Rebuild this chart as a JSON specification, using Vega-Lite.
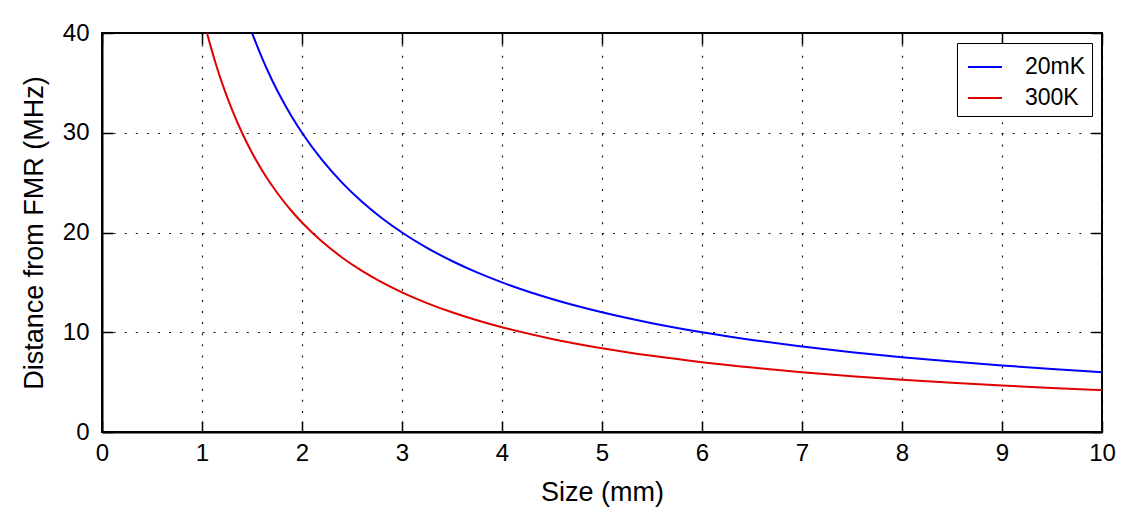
{
  "$schema": "https://vega.github.io/schema/vega-lite/v6.json",
  "autosize": {"type": "none"},
  "width": 1000,
  "height": 399,
  "padding": {"left": 102, "top": 33, "right": 35, "bottom": 97},
  "background": "white",
  "config": {
    "font": "Liberation Sans",
    "view": {"stroke": "black", "strokeWidth": 2},
    "axis": {
      "domainColor": "black",
      "domainWidth": 2,
      "tickColor": "black",
      "tickWidth": 1.5,
      "tickSize": -11,
      "labelColor": "black",
      "labelFlush": false,
      "labelOverlap": false,
      "titleFontWeight": "normal",
      "titleColor": "black",
      "gridColor": "black",
      "gridWidth": 1.2,
      "gridOpacity": 0.9
    }
  },
  "data": {
    "values": [
      {"size": 1.5, "dist": 40, "temp": "20mK"},
      {"size": 1.6, "dist": 37.5, "temp": "20mK"},
      {"size": 1.7, "dist": 35.294, "temp": "20mK"},
      {"size": 1.8, "dist": 33.333, "temp": "20mK"},
      {"size": 1.9, "dist": 31.579, "temp": "20mK"},
      {"size": 2.0, "dist": 30, "temp": "20mK"},
      {"size": 2.2, "dist": 27.273, "temp": "20mK"},
      {"size": 2.4, "dist": 25, "temp": "20mK"},
      {"size": 2.6, "dist": 23.077, "temp": "20mK"},
      {"size": 2.8, "dist": 21.429, "temp": "20mK"},
      {"size": 3.0, "dist": 20, "temp": "20mK"},
      {"size": 3.25, "dist": 18.462, "temp": "20mK"},
      {"size": 3.5, "dist": 17.143, "temp": "20mK"},
      {"size": 3.75, "dist": 16, "temp": "20mK"},
      {"size": 4.0, "dist": 15, "temp": "20mK"},
      {"size": 4.5, "dist": 13.333, "temp": "20mK"},
      {"size": 5.0, "dist": 12, "temp": "20mK"},
      {"size": 5.5, "dist": 10.909, "temp": "20mK"},
      {"size": 6.0, "dist": 10, "temp": "20mK"},
      {"size": 6.5, "dist": 9.231, "temp": "20mK"},
      {"size": 7.0, "dist": 8.571, "temp": "20mK"},
      {"size": 7.5, "dist": 8, "temp": "20mK"},
      {"size": 8.0, "dist": 7.5, "temp": "20mK"},
      {"size": 8.5, "dist": 7.059, "temp": "20mK"},
      {"size": 9.0, "dist": 6.667, "temp": "20mK"},
      {"size": 9.5, "dist": 6.316, "temp": "20mK"},
      {"size": 10.0, "dist": 6, "temp": "20mK"},
      {"size": 1.05, "dist": 40, "temp": "300K"},
      {"size": 1.1, "dist": 38.182, "temp": "300K"},
      {"size": 1.15, "dist": 36.522, "temp": "300K"},
      {"size": 1.2, "dist": 35, "temp": "300K"},
      {"size": 1.3, "dist": 32.308, "temp": "300K"},
      {"size": 1.4, "dist": 30, "temp": "300K"},
      {"size": 1.5, "dist": 28, "temp": "300K"},
      {"size": 1.6, "dist": 26.25, "temp": "300K"},
      {"size": 1.7, "dist": 24.706, "temp": "300K"},
      {"size": 1.8, "dist": 23.333, "temp": "300K"},
      {"size": 1.9, "dist": 22.105, "temp": "300K"},
      {"size": 2.0, "dist": 21, "temp": "300K"},
      {"size": 2.2, "dist": 19.091, "temp": "300K"},
      {"size": 2.4, "dist": 17.5, "temp": "300K"},
      {"size": 2.6, "dist": 16.154, "temp": "300K"},
      {"size": 2.8, "dist": 15, "temp": "300K"},
      {"size": 3.0, "dist": 14, "temp": "300K"},
      {"size": 3.25, "dist": 12.923, "temp": "300K"},
      {"size": 3.5, "dist": 12, "temp": "300K"},
      {"size": 3.75, "dist": 11.2, "temp": "300K"},
      {"size": 4.0, "dist": 10.5, "temp": "300K"},
      {"size": 4.5, "dist": 9.333, "temp": "300K"},
      {"size": 5.0, "dist": 8.4, "temp": "300K"},
      {"size": 5.5, "dist": 7.636, "temp": "300K"},
      {"size": 6.0, "dist": 7, "temp": "300K"},
      {"size": 6.5, "dist": 6.462, "temp": "300K"},
      {"size": 7.0, "dist": 6, "temp": "300K"},
      {"size": 7.5, "dist": 5.6, "temp": "300K"},
      {"size": 8.0, "dist": 5.25, "temp": "300K"},
      {"size": 8.5, "dist": 4.941, "temp": "300K"},
      {"size": 9.0, "dist": 4.667, "temp": "300K"},
      {"size": 9.5, "dist": 4.421, "temp": "300K"},
      {"size": 10.0, "dist": 4.2, "temp": "300K"}
    ]
  },
  "layer": [
    {
      "mark": {"type": "line", "strokeWidth": 2, "interpolate": "monotone", "clip": true},
      "encoding": {
        "x": {
          "field": "size", "type": "quantitative", "title": "Size (mm)",
          "scale": {"domain": [0, 10], "nice": false},
          "axis": {"values": [0,1,2,3,4,5,6,7,8,9,10], "grid": true, "gridDash": [2, 9.1], "labelFontSize": 24, "labelPadding": 20, "titleFontSize": 27, "titlePadding": 14}
        },
        "y": {
          "field": "dist", "type": "quantitative", "title": "Distance from FMR (MHz)",
          "scale": {"domain": [0, 40], "nice": false},
          "axis": {"values": [0,10,20,30,40], "grid": true, "gridDash": [2, 9.1], "labelFontSize": 24, "labelPadding": 24, "titleFontSize": 27, "titlePadding": 14}
        },
        "color": {
          "field": "temp", "type": "nominal",
          "scale": {"domain": ["20mK", "300K"], "range": ["#0000ff", "#e00000"]},
          "legend": {
            "title": null,
            "orient": "top-right",
            "offset": 10,
            "strokeColor": "black",
            "fillColor": "white",
            "padding": 6,
            "symbolType": "stroke",
            "symbolSize": 1156,
            "symbolStrokeWidth": 2,
            "symbolOffset": 4,
            "labelFontSize": 23,
            "labelColor": "black",
            "labelOffset": 22,
            "rowPadding": 1
          }
        }
      }
    },
    {
      "mark": {"type": "point", "opacity": 0},
      "encoding": {
        "x": {
          "field": "size", "type": "quantitative",
          "axis": {"orient": "top", "values": [0,1,2,3,4,5,6,7,8,9,10], "labels": false, "title": null, "grid": false, "domain": false}
        },
        "y": {
          "field": "dist", "type": "quantitative",
          "axis": {"orient": "right", "values": [0,10,20,30,40], "labels": false, "title": null, "grid": false, "domain": false}
        }
      }
    }
  ],
  "resolve": {"axis": {"x": "independent", "y": "independent"}}
}
